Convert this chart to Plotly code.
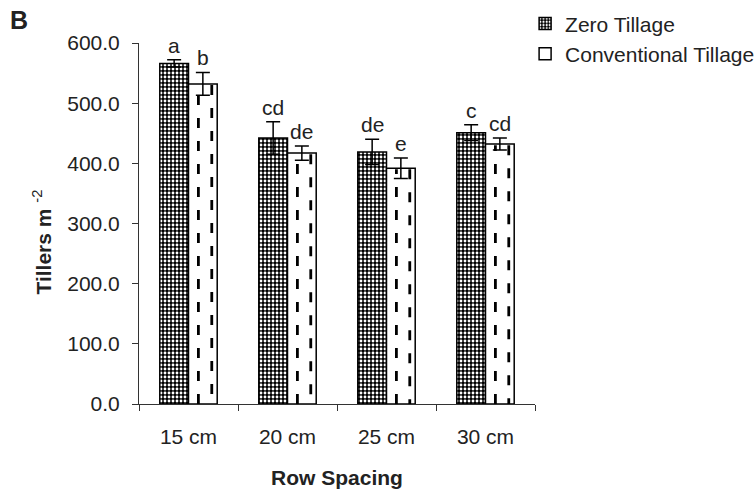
import plotly.graph_objects as go

categories = ["15 cm", "20 cm", "25 cm", "30 cm"]
zero_tillage = [566, 442, 419, 451]
zero_err = [6, 27, 21, 13]
zero_letters = ["a", "cd", "de", "c"]
conv_tillage = [532, 417, 392, 432]
conv_err = [19, 12, 17, 10]
conv_letters = ["b", "de", "e", "cd"]
y_ticks = [0, 100, 200, 300, 400, 500, 600]

FONT = "Liberation Sans, Arial, sans-serif"
FS = 21
BAR_W = 0.29
OFF = BAR_W / 2
idx = list(range(len(categories)))

fig = go.Figure()
fig.add_trace(go.Bar(
    x=[i - OFF for i in idx], y=zero_tillage, width=BAR_W, name="Zero Tillage",
    legendgroup="z",
    marker=dict(color="black", line=dict(color="black", width=1.5),
                pattern=dict(shape=".", bgcolor="black", fgcolor="white",
                             size=4, solidity=0.4, fillmode="replace")),
    error_y=dict(type="data", array=zero_err, color="black", thickness=1.5, width=7),
))
fig.add_trace(go.Bar(
    x=[i + OFF for i in idx], y=conv_tillage, width=BAR_W, name="Conventional Tillage",
    legendgroup="c",
    marker=dict(color="white", line=dict(color="black", width=1.5)),
    error_y=dict(type="data", array=conv_err, color="black", thickness=1.5, width=7),
))

# dashed vertical pattern inside conventional bars
for frac, start_top in [(-0.045, False), (0.09, True)]:
    xs, ys = [], []
    for i, v in zip(idx, conv_tillage):
        xs += [i + OFF + frac, i + OFF + frac, None]
        ys += ([v - 2, 0, None] if start_top else [0, v - 2, None])
    fig.add_trace(go.Scatter(x=xs, y=ys, mode="lines", showlegend=False, hoverinfo="skip",
                             line=dict(color="black", width=2.8, dash="10px,13px")))

annots = []
for i in idx:
    annots.append(dict(x=i - OFF, y=zero_tillage[i] + zero_err[i], text=zero_letters[i],
                       showarrow=False, yanchor="bottom", yshift=1,
                       font=dict(size=FS, color="#222", family=FONT)))
    annots.append(dict(x=i + OFF, y=conv_tillage[i] + conv_err[i], text=conv_letters[i],
                       showarrow=False, yanchor="bottom", yshift=1,
                       font=dict(size=FS, color="#222", family=FONT)))
annots.append(dict(xref="paper", yref="paper", x=-0.33, y=1.02, text="<b>B</b>",
                   showarrow=False, xanchor="left", yanchor="bottom",
                   font=dict(size=25, color="#222", family=FONT)))
annots.append(dict(xref="paper", yref="paper", x=-0.245, y=0.45,
                   text="<b>Tillers m</b> <sup>-2</sup>", textangle=-90,
                   showarrow=False, xanchor="center", yanchor="middle",
                   font=dict(size=FS, color="#222", family=FONT)))

fig.update_layout(
    width=756, height=491,
    margin=dict(l=139, r=221, t=43, b=87, autoexpand=False),
    paper_bgcolor="white", plot_bgcolor="white",
    barmode="overlay",
    font=dict(family=FONT, size=FS, color="#222"),
    annotations=annots,
    legend=dict(x=0.975, y=1.11, xanchor="left", yanchor="top",
                font=dict(size=FS, color="#222", family=FONT),
                tracegroupgap=0, bgcolor="rgba(0,0,0,0)"),
    xaxis=dict(range=[-0.5, 3.5], tickvals=idx, ticktext=categories, ticks="",
               showline=True, linecolor="#333", linewidth=1, showgrid=False,
               zeroline=False, ticklabelstandoff=14, automargin=False,
               minor=dict(tickvals=[-0.5, 0.5, 1.5, 2.5, 3.5], ticks="outside",
                          ticklen=6, tickcolor="#333", tickwidth=1),
               title=dict(text="<b>Row Spacing</b>", standoff=23,
                          font=dict(size=FS, color="#222", family=FONT))),
    yaxis=dict(range=[0, 600], tickvals=y_ticks, tickformat=".1f", ticks="outside",
               ticklen=6, tickcolor="#333", showline=True, linecolor="#333", linewidth=1,
               showgrid=False, zeroline=False, ticklabelstandoff=8, automargin=False),
)

fig.write_html("out.html", config={"displayModeBar": False},
               post_script="document.body.style.margin='0';document.body.style.overflow='hidden';")
